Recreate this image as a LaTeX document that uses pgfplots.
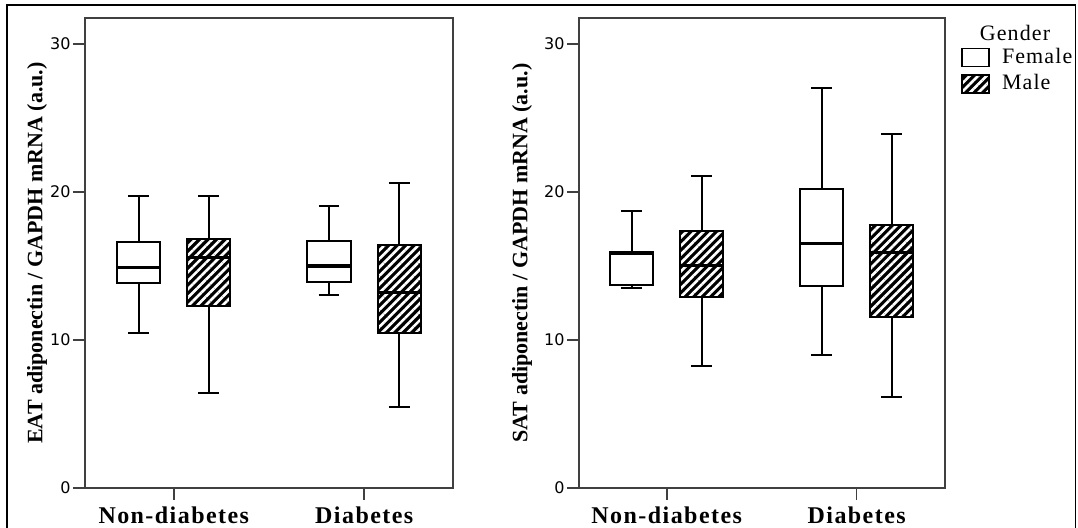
\documentclass[border=0pt]{standalone}
\usepackage{pgfplots}
\pgfplotsset{compat=1.18}
\usepgfplotslibrary{statistics}
\usetikzlibrary{patterns.meta}
\usepackage{fontspec}
\setmainfont{Liberation Serif}
\newfontfamily\tickfont{DejaVu Sans}
\newfontfamily\catfont[LetterSpace=6]{Liberation Serif}
\newfontfamily\legfont[LetterSpace=5]{Liberation Serif}

\tikzset{hatch/.style={fill=black, postaction={pattern={Lines[angle=45,distance=3pt,line width=1.3pt]}, pattern color=white}}}

\pgfplotsset{
 panel/.style={
  scale only axis, width=184pt, height=235pt,
  xmin=-0.466, xmax=1.466, ymin=0, ymax=31.76,
  xtick={0,1}, xticklabels={Non-diabetes, Diabetes},
  ytick={0,10,20,30},
  tick align=outside, major tick length=6pt,
  xtick pos=left, ytick pos=left,
  axis line style={draw=black!75, line width=0.75pt},
  every tick/.style={black!75, line width=0.75pt},
  /pgf/number format/assume math mode=true,
  yticklabel style={font=\tickfont\fontsize{8}{9}\selectfont, inner sep=1pt},
  xticklabel style={font=\catfont\bfseries\fontsize{12}{14}\selectfont},
  ylabel style={font=\bfseries\fontsize{11}{13}\selectfont, anchor=center},
  boxplot/draw direction=y,
  boxplot/box extend=0.226,
  boxplot/whisker extend=0.11,
  boxplot/every median/.style={line width=1.6pt},
 },
 fem/.style={black, line width=1pt, fill=white},
 mal/.style={black, line width=1pt, boxplot/every box/.style={hatch}},
}

\begin{document}
\begin{tikzpicture}
% left panel: EAT
\begin{axis}[panel, at={(42.5pt,-244pt)}, anchor=south west,
  ylabel={EAT adiponectin / GAPDH mRNA (a.u.)},
  ylabel style={at={(axis description cs:-0.1304,0.5)}}]
\addplot[fem, boxplot prepared={draw position=-0.184, lower whisker=10.47, lower quartile=13.83, median=14.88, upper quartile=16.64, upper whisker=19.75}] coordinates {};
\addplot[mal, boxplot prepared={draw position=0.184, lower whisker=6.44, lower quartile=12.32, median=15.59, upper quartile=16.82, upper whisker=19.75}] coordinates {};
\addplot[fem, boxplot prepared={draw position=0.815, lower whisker=13.06, lower quartile=13.9, median=15.0, upper quartile=16.67, upper whisker=19.03}] coordinates {};
\addplot[mal, boxplot prepared={draw position=1.184, lower whisker=5.49, lower quartile=10.47, median=13.2, upper quartile=16.44, upper whisker=20.59}] coordinates {};
\end{axis}
% right panel: SAT
\begin{axis}[panel, width=183pt, at={(289.5pt,-244pt)}, anchor=south west,
  xmin=-0.462, xmax=1.465,
  ylabel={SAT adiponectin / GAPDH mRNA (a.u.)},
  ylabel style={at={(axis description cs:-0.1557,0.5)}},
  legend style={at={(axis description cs:1,1)}, anchor=north west, xshift=8pt, yshift=-13pt,
    draw=none, fill=none, inner sep=0pt, row sep=0pt, column sep=4pt,
    font=\legfont\fontsize{11}{12}\selectfont, cells={anchor=west}},
  legend image code/.code={\draw[#1] (0pt,-4.5pt) rectangle (13.5pt,4.5pt);}]
\addlegendimage{black, line width=0.8pt, fill=white}
\addlegendentry{Female}
\addlegendimage{black, line width=0.8pt, hatch}
\addlegendentry{Male}
\addplot[fem, boxplot prepared={draw position=-0.184, lower whisker=13.53, lower quartile=13.72, median=15.86, upper quartile=15.93, upper whisker=18.74}] coordinates {};
\addplot[mal, boxplot prepared={draw position=0.184, lower whisker=8.27, lower quartile=12.93, median=15.05, upper quartile=17.39, upper whisker=21.1}] coordinates {};
\addplot[fem, boxplot prepared={draw position=0.816, lower whisker=8.99, lower quartile=13.67, median=16.53, upper quartile=20.2, upper whisker=27.0}] coordinates {};
\addplot[mal, boxplot prepared={draw position=1.184, lower whisker=6.13, lower quartile=11.53, median=15.93, upper quartile=17.77, upper whisker=23.9}] coordinates {};
\end{axis}
\node[font=\legfont\fontsize{11}{12}\selectfont] at (507.5pt,-16.5pt) {Gender};
\draw[line width=0.75pt] (3.5pt,-280pt) -- (3.5pt,-2.5pt) -- (537.8pt,-2.5pt) -- (537.8pt,-280pt);
\pgfresetboundingbox
\path[use as bounding box] (0pt,0pt) rectangle (539pt,-264pt);
\end{tikzpicture}
\end{document}
